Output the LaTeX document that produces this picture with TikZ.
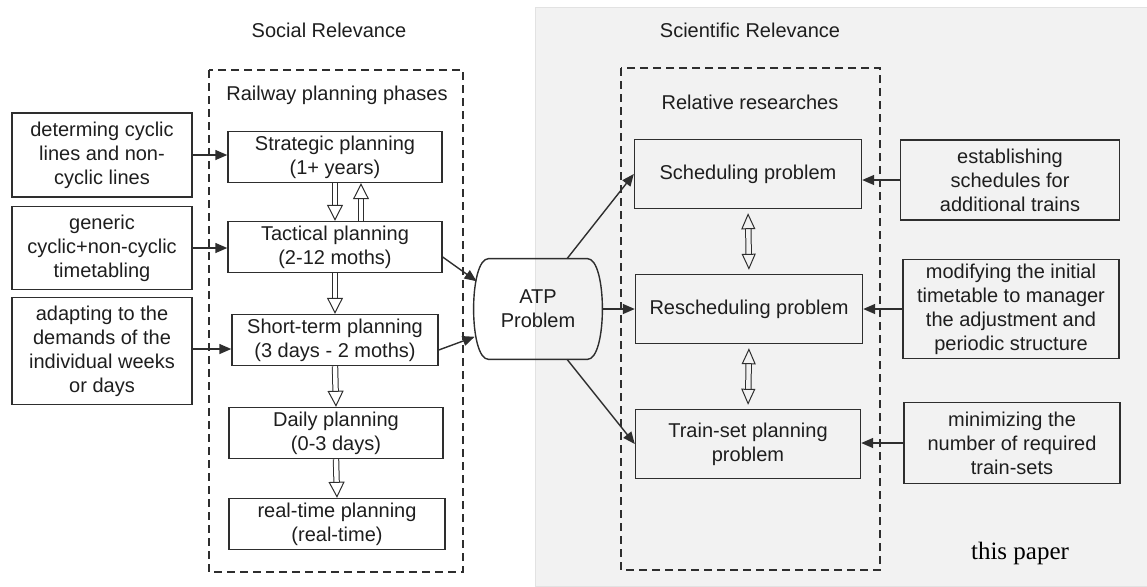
\documentclass[tikz,border=0pt]{standalone}
\usepackage{fontspec}
\setsansfont{Liberation Sans}
\setmainfont{Liberation Serif}
\usetikzlibrary{arrows.meta}
\definecolor{linegray}{HTML}{2E2E2E}
\definecolor{panelgray}{HTML}{F2F2F2}
\definecolor{paneledge}{HTML}{E2E2E2}
\definecolor{textdark}{HTML}{1E1E1E}

\begin{document}
\begin{tikzpicture}[x=0.5pt,y=-0.5pt,font=\sffamily\fontsize{10}{12}\selectfont,
  box/.style={draw=linegray,line width=0.7pt,align=center,inner sep=0pt,text=textdark},
  phasebox/.style={box,minimum width=107pt,minimum height=25.5pt},
  taskbox/.style={box,minimum width=90pt},
  resbox/.style={box,minimum width=113.5pt,minimum height=34.5pt},
  notebox/.style={box,minimum width=108pt},
  groupbox/.style={draw=linegray,line width=0.6pt,dash pattern=on 4pt off 2.5pt},
  solidarrow/.style={draw=linegray,line width=0.7pt,-{Triangle[length=6pt,width=5pt]}},
  hollowarrow/.style={draw=linegray,line width=0.5pt,double=white,double distance=2.2pt,
    -{Triangle[open,length=8pt,width=8pt]}},
  twowayarrow/.style={hollowarrow,double=panelgray,
    {Triangle[open,length=8pt,width=7pt]}-{Triangle[open,length=8pt,width=7pt]}},
  heading/.style={text=textdark}]
  \useasboundingbox (0,0) rectangle (1147,586);

  % Scientific side panel.
  \filldraw[fill=panelgray,draw=paneledge,line width=0.4pt] (535,7) rectangle (1147,586);

  % Headings and dashed groups.
  \node[heading] (socialtitle) at (329,30) {Social Relevance};
  \node[heading] (scititle) at (750,30) {Scientific Relevance};
  \draw[groupbox] (209,70) rectangle (463,572);
  \draw[groupbox] (621,68) rectangle (880,570);
  \node[heading] (phasetitle) at (337,95) {Railway planning phases};
  \node[heading] (restitle) at (750,102) {Relative researches};

  % Railway planning phases.
  \node[phasebox] (strat) at (335,157) {Strategic planning\\(1+ years)};
  \node[phasebox] (tact) at (335,247) {Tactical planning\\(2-12 moths)};
  \node[phasebox,minimum width=103pt] (short) at (335,340) {Short-term planning\\(3 days - 2 moths)};
  \node[phasebox] (daily) at (336,433) {Daily planning\\(0-3 days)};
  \node[phasebox,minimum width=108pt] (realtime) at (337,524) {real-time planning\\(real-time)};

  % Tasks feeding the phases.
  \node[taskbox,minimum height=42pt] (cyclic) at (102,155)
    {determing cyclic\\lines and non-\\cyclic lines};
  \node[taskbox,minimum height=41.5pt] (generic) at (102,248)
    {generic\\cyclic+non-cyclic\\timetabling};
  \node[taskbox,minimum height=53.5pt] (adapt) at (102,351)
    {adapting to the\\demands of the\\individual weeks\\or days};

  % ATP problem in the middle (flat top and bottom, bulging sides).
  \node[minimum width=65pt,minimum height=50pt,inner sep=0pt,align=center,text=textdark]
    (atp) at (538,309) {ATP\\Problem};
  \draw[linegray,line width=0.7pt]
    ([xshift=8pt]atp.north west) -- ([xshift=-8pt]atp.north east)
    .. controls ([xshift=2pt]atp.north east) and ([xshift=2pt]atp.south east)
    .. ([xshift=-8pt]atp.south east) -- ([xshift=8pt]atp.south west)
    .. controls ([xshift=-2pt]atp.south west) and ([xshift=-2pt]atp.north west)
    .. cycle;

  % Relative researches.
  \node[resbox] (sched) at (748,174) {Scheduling problem};
  \node[resbox] (resched) at (749,309) {Rescheduling problem};
  \node[resbox,minimum width=112.5pt] (trainset) at (748,444) {Train-set planning\\problem};

  % Notes on the researches.
  \node[notebox,minimum width=109.5pt,minimum height=40pt] (extra) at (1010,180)
    {establishing\\schedules for\\additional trains};
  \node[notebox,minimum height=49.5pt] (modify) at (1011,309)
    {modifying the initial\\timetable to manager\\the adjustment and\\periodic structure};
  \node[notebox,minimum height=40.5pt] (minimize) at (1012,443)
    {minimizing the\\number of required\\train-sets};

  % Solid connectors.
  \draw[solidarrow] (cyclic.east) -- (cyclic.east -| strat.west);
  \draw[solidarrow] (generic.east) -- (generic.east -| tact.west);
  \draw[solidarrow] ([yshift=1pt]adapt.east) -- ([yshift=1pt]adapt.east -| short.west);
  \draw[solidarrow] ([yshift=-5pt]tact.east) -- ([xshift=2pt]atp.157);
  \draw[solidarrow] ([yshift=-5pt]short.east) -- ([xshift=1pt]atp.203);
  \draw[solidarrow] (atp.60) -- (sched.west);
  \draw[solidarrow] (atp.east) -- (resched.west);
  \draw[solidarrow] (atp.-60) -- (trainset.west);
  \draw[solidarrow] (extra.west) -- (extra.west -| sched.east);
  \draw[solidarrow] (modify.west) -- (modify.west -| resched.east);
  \draw[solidarrow] (minimize.west) -- (minimize.west -| trainset.east);

  % Hollow arrows between phases.
  \draw[hollowarrow] (strat.south) -- (tact.north);
  \draw[hollowarrow] ([xshift=13pt]tact.north) -- ([xshift=13pt]strat.south);
  \draw[hollowarrow] (tact.south) -- (short.north);
  \draw[hollowarrow] (short.south) -- (daily.north);
  \draw[hollowarrow] (daily.south) -- (realtime.north);
  \draw[twowayarrow,shorten <=2pt,shorten >=2pt] (sched.south) -- (resched.north);
  \draw[twowayarrow,shorten <=2pt,shorten >=2pt] (resched.south) -- (trainset.north);

  \node[font=\rmfamily\fontsize{12.5}{14}\selectfont] (paper) at (1020,553) {this paper};
\end{tikzpicture}
\end{document}
